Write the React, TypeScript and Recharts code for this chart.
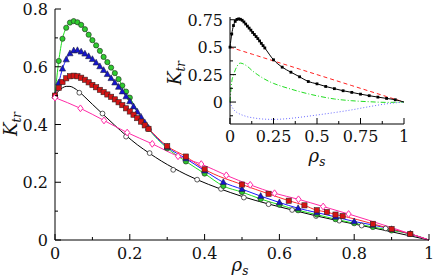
import React from 'react';
import { ComposedChart, LineChart, Line, XAxis, YAxis, Label } from 'recharts';

const FONT = 'DejaVu Serif';

// main panel: K_tr against rho_s
const greenX = [0, 0.01, 0.02, 0.03, 0.04, 0.05, 0.06, 0.07, 0.08, 0.09, 0.1, 0.11, 0.12, 0.13, 0.14, 0.15, 0.16, 0.17, 0.18, 0.19, 0.2, 0.25, 0.3, 0.35, 0.4, 0.45, 0.5, 0.55, 0.6, 0.65, 0.7, 0.75, 0.8, 0.85, 0.9, 0.95, 1];
const greenY = [0.5, 0.62, 0.697, 0.735, 0.753, 0.758, 0.754, 0.745, 0.73, 0.711, 0.692, 0.674, 0.655, 0.634, 0.616, 0.597, 0.578, 0.557, 0.535, 0.514, 0.493, 0.385, 0.318, 0.272, 0.23, 0.187, 0.166, 0.142, 0.122, 0.103, 0.088, 0.072, 0.058, 0.045, 0.033, 0.021, 0];

const blueX = [0, 0.01, 0.02, 0.03, 0.04, 0.05, 0.06, 0.07, 0.08, 0.09, 0.1, 0.11, 0.12, 0.13, 0.14, 0.15, 0.16, 0.17, 0.18, 0.19, 0.2, 0.21, 0.22, 0.23, 0.24, 0.25, 0.3, 0.35, 0.4, 0.45, 0.5, 0.55, 0.6, 0.65, 0.7, 0.75, 0.8, 0.85, 0.9, 0.95, 1];
const blueY = [0.5, 0.545, 0.593, 0.625, 0.646, 0.656, 0.657, 0.652, 0.645, 0.636, 0.626, 0.614, 0.601, 0.588, 0.574, 0.56, 0.545, 0.53, 0.514, 0.497, 0.48, 0.462, 0.444, 0.426, 0.407, 0.388, 0.322, 0.282, 0.24, 0.2, 0.176, 0.152, 0.13, 0.11, 0.095, 0.08, 0.064, 0.052, 0.037, 0.021, 0];

const redX = [0, 0.01, 0.02, 0.03, 0.04, 0.05, 0.06, 0.07, 0.08, 0.09, 0.1, 0.11, 0.12, 0.13, 0.14, 0.15, 0.16, 0.17, 0.18, 0.19, 0.2, 0.21, 0.22, 0.23, 0.24, 0.25, 0.3, 0.35, 0.4, 0.5, 0.571, 0.625, 0.667, 0.7, 0.727, 0.75, 0.769, 0.85, 0.9, 0.95, 1];
const redY = [0.5, 0.527, 0.547, 0.56, 0.567, 0.569, 0.567, 0.562, 0.555, 0.546, 0.537, 0.529, 0.52, 0.512, 0.504, 0.496, 0.487, 0.477, 0.467, 0.456, 0.445, 0.434, 0.422, 0.41, 0.397, 0.385, 0.325, 0.289, 0.245, 0.192, 0.16, 0.136, 0.12, 0.103, 0.097, 0.088, 0.083, 0.056, 0.038, 0.021, 0];

const magentaX = [0, 0.068, 0.131, 0.193, 0.26, 0.329, 0.391, 0.458, 0.522, 0.587, 0.651, 0.717, 0.785, 1];
const magentaY = [0.493, 0.456, 0.414, 0.372, 0.333, 0.29, 0.263, 0.224, 0.191, 0.162, 0.141, 0.116, 0.09, 0];

const blackFitX = [0, 0.01, 0.02, 0.03, 0.04, 0.05, 0.065, 0.08, 0.1, 0.127, 0.16, 0.19, 0.22, 0.253, 0.285, 0.316, 0.35, 0.38, 0.44, 0.5, 0.57, 0.634, 0.7, 0.76, 0.82, 0.88, 0.94, 1];
const blackFitY = [0.5, 0.517, 0.527, 0.532, 0.532, 0.527, 0.513, 0.495, 0.47, 0.437, 0.397, 0.362, 0.33, 0.3, 0.273, 0.25, 0.227, 0.209, 0.178, 0.151, 0.125, 0.104, 0.083, 0.066, 0.05, 0.034, 0.017, 0];
const blackX = [0, 0.065, 0.127, 0.19, 0.253, 0.316, 0.38, 0.444, 0.505, 0.571, 0.634, 0.698, 0.76, 0.82, 0.884, 0.95];
const blackY = [0.5, 0.51, 0.438, 0.358, 0.301, 0.243, 0.209, 0.177, 0.147, 0.124, 0.104, 0.083, 0.067, 0.05, 0.04, 0.021];

// inset: the three parts of the green curve
const insetX = [0, 0.01, 0.02, 0.04, 0.06, 0.08, 0.1, 0.13, 0.16, 0.2, 0.25, 0.3, 0.35, 0.4, 0.5, 0.6, 0.7, 0.8, 0.9, 1];
const insetRed = [0.5, 0.495, 0.49, 0.48, 0.47, 0.46, 0.45, 0.435, 0.42, 0.4, 0.375, 0.35, 0.325, 0.3, 0.25, 0.2, 0.15, 0.1, 0.05, 0];
const insetGreen = [0, 0.185, 0.245, 0.325, 0.355, 0.345, 0.325, 0.283, 0.248, 0.208, 0.17, 0.142, 0.118, 0.095, 0.057, 0.028, 0.012, 0.003, -0.003, 0];
const insetBlue = [0, -0.04, -0.066, -0.095, -0.112, -0.124, -0.134, -0.143, -0.15, -0.156, -0.158, -0.155, -0.148, -0.139, -0.118, -0.096, -0.071, -0.042, -0.016, 0];

const mainXTicks = [0, 0.1, 0.2, 0.3, 0.4, 0.5, 0.6, 0.7, 0.8, 0.9, 1];
const mainXLabels = [0, 0.2, 0.4, 0.6, 0.8, 1];
const mainYTicks = [0, 0.1, 0.2, 0.3, 0.4, 0.5, 0.6, 0.7, 0.8];
const mainYLabels = [0, 0.2, 0.4, 0.6, 0.8];
const insetXTicks = [0, 0.125, 0.25, 0.375, 0.5, 0.625, 0.75, 0.875, 1];
const insetXLabels = [0, 0.25, 0.5, 0.75, 1];
const insetYTicks = [-0.125, 0, 0.125, 0.25, 0.375, 0.5, 0.625, 0.75];
const insetYLabels = [0, 0.25, 0.5, 0.75];

const zip = (xs: number[], ys: number[]) => xs.map((x, i) => ({ x, y: ys[i] }));

const isLabel = (labels: number[], v: number) => labels.some((l) => Math.abs(l - v) < 1e-9);

type Side = 'bottom' | 'top' | 'left' | 'right';

// ticks point into the plot, gnuplot style; labels only on bottom/left
function makeTick(side: Side, labels: number[], below = 19) {
  return (props: any) => {
    const { x, y, payload, index } = props;
    const v = payload.value as number;
    const big = isLabel(labels, v);
    const len = big ? 6 : 3;
    if (side === 'bottom')
      return (
        <g key={index}>
          <line x1={x} y1={y} x2={x} y2={y - len} stroke="#000" />
          {big && (
            <text x={x} y={y + below} textAnchor="middle" fontFamily={FONT} fontSize={16} fill="#111">
              {String(v)}
            </text>
          )}
        </g>
      );
    if (side === 'top') return <line key={index} x1={x} y1={y} x2={x} y2={y + len} stroke="#000" />;
    if (side === 'left')
      return (
        <g key={index}>
          <line x1={x} y1={y} x2={x + len} y2={y} stroke="#000" />
          {big && (
            <text x={x - 7} y={y + 6} textAnchor="end" fontFamily={FONT} fontSize={16} fill="#111">
              {String(v)}
            </text>
          )}
        </g>
      );
    return <line key={index} x1={x} y1={y} x2={x - len} y2={y} stroke="#000" />;
  };
}

const skipEnd = (p: any) => p.payload.x === 1;

const greenDot = (p: any) =>
  skipEnd(p) ? <g key={p.index} /> : <circle key={p.index} cx={p.cx} cy={p.cy} r={2.6} fill="#2ecc2e" stroke="#2a3a2a" strokeWidth={0.7} />;

const blueDot = (p: any) =>
  skipEnd(p) ? <g key={p.index} /> : (
    <polygon key={p.index} points={`${p.cx},${p.cy - 3.5} ${p.cx - 3.1},${p.cy + 2.3} ${p.cx + 3.1},${p.cy + 2.3}`} fill="#1414cc" stroke="#222244" strokeWidth={0.6} />
  );

const redDot = (p: any) =>
  skipEnd(p) ? <g key={p.index} /> : <rect key={p.index} x={p.cx - 2.6} y={p.cy - 2.6} width={5.2} height={5.2} fill="#d41414" stroke="#3a2222" strokeWidth={0.6} />;

const magentaDot = (p: any) =>
  skipEnd(p) ? <g key={p.index} /> : (
    <polygon key={p.index} points={`${p.cx},${p.cy - 3.4} ${p.cx + 2.6},${p.cy} ${p.cx},${p.cy + 3.4} ${p.cx - 2.6},${p.cy}`} fill="#fff" stroke="#ff2aa6" strokeWidth={1} />
  );

const blackDot = (p: any) => <circle key={p.index} cx={p.cx} cy={p.cy} r={2.4} fill="#fff" stroke="#333" strokeWidth={0.8} />;

const insetDot = (p: any) =>
  skipEnd(p) ? <g key={p.index} /> : <rect key={p.index} x={p.cx - 1.4} y={p.cy - 1.4} width={2.8} height={2.8} fill="#000" />;

const ktrLabel = (cx: number, cy: number) => () => (
  <text x={cx} y={cy} transform={`rotate(-90, ${cx}, ${cy})`} textAnchor="middle" fontFamily={FONT} fontSize={18} fontStyle="italic" fill="#111">
    K<tspan fontSize={12} dy={4}>tr</tspan>
  </text>
);

const rhoLabel = (cx: number, cy: number) => () => (
  <text x={cx} y={cy} textAnchor="middle" fontFamily={FONT} fontSize={18} fontStyle="italic" fill="#111">
    ρ<tspan fontSize={12} dy={4}>s</tspan>
  </text>
);

function MainPanel() {
  return (
    <ComposedChart width={436} height={280} margin={{ top: 9, right: 7, bottom: 10, left: 20 }}>
      <XAxis dataKey="x" type="number" domain={[0, 1]} ticks={mainXTicks} interval={0} height={30} tickSize={0} tickMargin={0} tickLine={false} axisLine={{ stroke: '#000' }} tick={makeTick('bottom', mainXLabels)}>
        <Label content={rhoLabel(240, 271)} />
      </XAxis>
      <XAxis xAxisId="top" orientation="top" dataKey="x" type="number" domain={[0, 1]} allowDataOverflow ticks={mainXTicks} interval={0} height={0} tickSize={0} tickMargin={0} tickLine={false} axisLine={{ stroke: '#000' }} tick={makeTick('top', mainXLabels)} />
      <YAxis dataKey="y" type="number" domain={[0, 0.8]} ticks={mainYTicks} interval={0} width={35} tickSize={0} tickMargin={0} tickLine={false} axisLine={{ stroke: '#000' }} tick={makeTick('left', mainYLabels)}>
        <Label content={ktrLabel(17, 124)} />
      </YAxis>
      <YAxis yAxisId="right" orientation="right" type="number" domain={[0, 0.8]} allowDataOverflow ticks={mainYTicks} interval={0} width={0} tickSize={0} tickMargin={0} tickLine={false} axisLine={{ stroke: '#000' }} tick={makeTick('right', mainYLabels)} />
      <Line data={zip(blackFitX, blackFitY)} dataKey="y" type="monotone" stroke="#000" strokeWidth={1} dot={false} isAnimationActive={false} />
      <Line data={zip(blackX, blackY)} dataKey="y" stroke="none" dot={blackDot} isAnimationActive={false} />
      <Line data={zip(greenX, greenY)} dataKey="y" type="monotone" stroke="#22e022" strokeWidth={1} dot={greenDot} isAnimationActive={false} />
      <Line data={zip(blueX, blueY)} dataKey="y" type="monotone" stroke="#1a1aff" strokeWidth={1} dot={blueDot} isAnimationActive={false} />
      <Line data={zip(redX, redY)} dataKey="y" type="monotone" stroke="#ff2a2a" strokeWidth={1} dot={redDot} isAnimationActive={false} />
      <Line data={zip(magentaX, magentaY)} dataKey="y" type="monotone" stroke="#ff2aa6" strokeWidth={1} dot={magentaDot} isAnimationActive={false} />
    </ComposedChart>
  );
}

// inset sits at left 150 of the page, so label positions below are local
function InsetPanel() {
  return (
    <LineChart width={270} height={175} margin={{ top: 17, right: 16, bottom: 21, left: 35 }}>
      <XAxis dataKey="x" type="number" domain={[0, 1]} ticks={insetXTicks} interval={0} height={30} tickSize={0} tickMargin={0} tickLine={false} axisLine={{ stroke: '#000' }} tick={makeTick('bottom', insetXLabels, 18)}>
        <Label content={rhoLabel(167, 162)} />
      </XAxis>
      <XAxis xAxisId="top" orientation="top" dataKey="x" type="number" domain={[0, 1]} allowDataOverflow ticks={insetXTicks} interval={0} height={0} tickSize={0} tickMargin={0} tickLine={false} axisLine={{ stroke: '#000' }} tick={makeTick('top', insetXLabels)} />
      <YAxis dataKey="y" type="number" domain={[-0.2, 0.775]} allowDataOverflow ticks={insetYTicks} interval={0} width={45} tickSize={0} tickMargin={0} tickLine={false} axisLine={{ stroke: '#000' }} tick={makeTick('left', insetYLabels)}>
        <Label content={ktrLabel(31, 73)} />
      </YAxis>
      <YAxis yAxisId="right" orientation="right" type="number" domain={[-0.2, 0.775]} allowDataOverflow ticks={insetYTicks} interval={0} width={0} tickSize={0} tickMargin={0} tickLine={false} axisLine={{ stroke: '#000' }} tick={makeTick('right', insetYLabels)} />
      <Line data={zip(insetX, insetRed)} dataKey="y" type="linear" stroke="#ff2020" strokeWidth={1} strokeDasharray="4 3" dot={false} isAnimationActive={false} />
      <Line data={zip(insetX, insetGreen)} dataKey="y" type="monotone" stroke="#22dd22" strokeWidth={1} strokeDasharray="5 2 1 2" dot={false} isAnimationActive={false} />
      <Line data={zip(insetX, insetBlue)} dataKey="y" type="monotone" stroke="#6a6aff" strokeWidth={1} strokeDasharray="1 2" dot={false} isAnimationActive={false} />
      <Line data={zip(greenX, greenY)} dataKey="y" type="monotone" stroke="#000" strokeWidth={1} dot={insetDot} isAnimationActive={false} />
    </LineChart>
  );
}

export default function App() {
  return (
    <div style={{ position: 'absolute', left: 0, top: 0, width: 436, height: 280, background: '#fff' }}>
      <MainPanel />
      <div style={{ position: 'absolute', left: 150, top: 0 }}>
        <InsetPanel />
      </div>
    </div>
  );
}
